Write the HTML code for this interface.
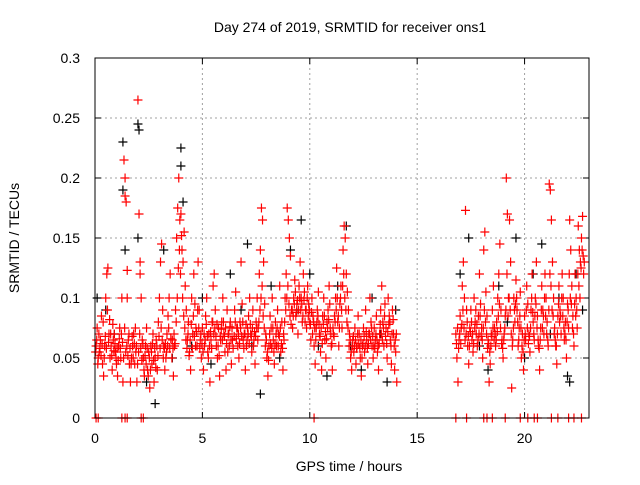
<!DOCTYPE html>
<html><head><meta charset="utf-8"><style>
body{margin:0;background:#fff;font-family:"Liberation Sans",sans-serif}
svg text{font-family:"Liberation Sans",sans-serif;font-size:14px;fill:#000}
</style></head><body>
<svg id="chart" width="640" height="480" viewBox="0 0 640 480">
<text x="350" y="32" text-anchor="middle">Day 274 of 2019, SRMTID for receiver ons1</text>
<text x="349" y="471" text-anchor="middle">GPS time / hours</text>
<text transform="translate(19,238) rotate(-90)" text-anchor="middle">SRMTID / TECUs</text>
<g id="grid"></g>
<g id="axes"></g>
<g id="black"></g>
<g id="red"></g>
<rect x="95" y="58" width="494" height="360" fill="none" stroke="#000" stroke-width="1"/>
</svg>
<script>
const xTicks=[0,5,10,15,20];
const yTicks=[0,0.05,0.1,0.15,0.2,0.25,0.3];
const yTickLabels=["0","0.05","0.1","0.15","0.2","0.25","0.3"];
const zeroTimes=[0.05,0.15,1.25,1.4,1.5,2.15,2.25,10.2,16.8,17.3,18.1,18.25,18.5,19.1,19.8,20.15,20.45,20.6,21.25,21.55,22.05,22.3,22.65];
const blackPoints=[[0.1,0.1],[0.5,0.09],[0.9,0.07],[1.3,0.23],[1.3,0.19],[1.4,0.14],[2.0,0.245],[2.05,0.24],[2.0,0.15],[2.4,0.03],[2.8,0.012],[3.2,0.14],[3.6,0.05],[4.0,0.225],[4.0,0.21],[4.1,0.18],[4.5,0.06],[5.0,0.1],[5.4,0.045],[6.3,0.12],[6.8,0.09],[7.1,0.145],[7.3,0.06],[7.7,0.02],[8.2,0.11],[8.6,0.05],[9.1,0.14],[9.4,0.09],[9.6,0.165],[10.0,0.12],[10.4,0.06],[10.8,0.035],[11.3,0.11],[11.7,0.16],[11.9,0.06],[12.4,0.04],[12.9,0.1],[13.3,0.07],[13.6,0.03],[14.0,0.09],[17.0,0.12],[17.4,0.15],[17.9,0.06],[18.3,0.04],[18.8,0.11],[19.2,0.08],[19.6,0.15],[20.0,0.05],[20.4,0.12],[20.8,0.145],[21.2,0.07],[21.6,0.1],[22.0,0.035],[22.1,0.03],[22.4,0.12],[22.7,0.09]];
const redPoints=[
[0.05,0.06],[0.1,0.075],[0.15,0.05],[0.2,0.055],[0.25,0.065],[0.3,0.085],[0.35,0.045],[0.4,0.035],[0.45,0.06],[0.5,0.1],[0.55,0.12],[0.6,0.125],[0.65,0.07],[0.7,0.05],[0.75,0.06],[0.8,0.04],[0.85,0.065],[0.9,0.07],[0.95,0.055],[1.0,0.045],[1.05,0.035],[1.1,0.06],[1.15,0.075],[1.2,0.05],[1.25,0.1],[1.3,0.03],[1.35,0.215],[1.4,0.2],[1.4,0.185],[1.45,0.18],[1.5,0.123],[1.5,0.1],[1.55,0.065],[1.6,0.045],[1.65,0.03],[1.7,0.05],[1.75,0.06],[1.8,0.07],[1.85,0.045],[1.9,0.055],[1.95,0.03],[2.0,0.265],[2.05,0.17],[2.1,0.13],[2.1,0.12],[2.15,0.1],[2.2,0.065],[2.25,0.05],[2.3,0.035],[2.35,0.06],[2.4,0.075],[2.45,0.04],[2.5,0.055],[2.55,0.025],[2.6,0.06],[2.65,0.045],[2.7,0.07],[2.75,0.03],[2.8,0.05],[2.85,0.065],[2.9,0.04],[2.95,0.08],[3.0,0.1],[3.05,0.13],[3.1,0.145],[3.15,0.09],[3.2,0.06],[3.25,0.04],[3.3,0.05],[3.35,0.07],[3.4,0.085],[3.45,0.1],[3.5,0.12],[3.6,0.065],[3.65,0.035],[3.7,0.06],[3.75,0.09],[3.8,0.15],[3.85,0.175],[3.9,0.2],[3.95,0.165],[4.0,0.17],[4.05,0.14],[4.1,0.13],[4.15,0.155],[4.2,0.11],[4.25,0.09],[4.3,0.065],[4.35,0.08],[4.4,0.055],[4.45,0.04],[4.5,0.1],[4.55,0.07],[4.6,0.12],[4.65,0.095],[4.7,0.075],[4.75,0.06],[4.8,0.13],[4.85,0.09],[4.9,0.065],[4.95,0.05],[5.0,0.075],[5.05,0.04],[5.1,0.06],[5.15,0.085],[5.2,0.1],[5.25,0.055],[5.3,0.07],[5.35,0.03],[5.4,0.065],[5.45,0.08],[5.5,0.11],[5.55,0.12],[5.6,0.09],[5.65,0.06],[5.7,0.05],[5.75,0.075],[5.8,0.035],[5.85,0.065],[5.9,0.08],[5.95,0.1],[6.0,0.07],[6.05,0.055],[6.1,0.04],[6.15,0.09],[6.2,0.07],[6.25,0.06],[6.3,0.08],[6.35,0.045],[6.4,0.065],[6.5,0.09],[6.55,0.105],[6.6,0.075],[6.65,0.06],[6.7,0.05],[6.75,0.08],[6.8,0.13],[6.85,0.095],[6.9,0.065],[6.95,0.07],[7.0,0.04],[7.05,0.06],[7.1,0.075],[7.15,0.085],[7.2,0.1],[7.25,0.07],[7.3,0.055],[7.35,0.09],[7.4,0.065],[7.45,0.045],[7.5,0.08],[7.55,0.1],[7.6,0.075],[7.65,0.12],[7.7,0.14],[7.75,0.175],[7.8,0.165],[7.85,0.13],[7.9,0.095],[7.95,0.07],[8.0,0.05],[8.05,0.035],[8.1,0.06],[8.15,0.085],[8.2,0.075],[8.25,0.1],[8.3,0.065],[8.35,0.045],[8.4,0.08],[8.45,0.06],[8.5,0.09],[8.55,0.07],[8.6,0.11],[8.65,0.055],[8.7,0.08],[8.75,0.04],[8.8,0.065],[8.85,0.1],[8.9,0.12],[8.95,0.175],[9.0,0.165],[9.05,0.15],[9.1,0.135],[9.15,0.09],[9.2,0.075],[9.25,0.1],[9.3,0.115],[9.35,0.085],[9.4,0.095],[9.45,0.07],[9.5,0.11],[9.55,0.13],[9.6,0.1],[9.65,0.08],[9.7,0.12],[9.75,0.105],[9.8,0.09],[9.85,0.075],[9.9,0.11],[9.95,0.095],[10.0,0.08],[10.05,0.065],[10.1,0.1],[10.15,0.085],[10.2,0.06],[10.25,0.045],[10.3,0.075],[10.35,0.09],[10.4,0.105],[10.45,0.07],[10.5,0.055],[10.55,0.04],[10.6,0.085],[10.65,0.1],[10.7,0.065],[10.75,0.05],[10.8,0.08],[10.85,0.09],[10.9,0.11],[10.95,0.075],[11.0,0.06],[11.05,0.04],[11.1,0.07],[11.15,0.085],[11.2,0.1],[11.25,0.125],[11.3,0.08],[11.35,0.06],[11.4,0.095],[11.45,0.11],[11.5,0.075],[11.55,0.14],[11.6,0.16],[11.65,0.15],[11.7,0.12],[11.75,0.105],[11.8,0.09],[11.85,0.07],[11.9,0.05],[11.95,0.04],[12.0,0.065],[12.05,0.055],[12.1,0.075],[12.15,0.045],[12.2,0.06],[12.25,0.085],[12.3,0.07],[12.35,0.05],[12.4,0.035],[12.45,0.06],[12.5,0.075],[12.55,0.055],[12.6,0.09],[12.65,0.065],[12.7,0.045],[12.75,0.07],[12.8,0.1],[12.85,0.08],[12.9,0.06],[12.95,0.05],[13.0,0.075],[13.05,0.065],[13.1,0.085],[13.15,0.055],[13.2,0.04],[13.25,0.07],[13.3,0.09],[13.35,0.11],[13.4,0.08],[13.45,0.06],[13.5,0.095],[13.55,0.075],[13.6,0.05],[13.65,0.1],[13.7,0.085],[13.75,0.065],[13.8,0.045],[13.85,0.09],[13.9,0.07],[13.95,0.04],[14.0,0.055],[14.05,0.03],
[16.8,0.07],[16.85,0.05],[16.9,0.03],[16.95,0.065],[17.0,0.085],[17.05,0.075],[17.1,0.11],[17.15,0.13],[17.2,0.1],[17.25,0.173],[17.3,0.09],[17.35,0.06],[17.4,0.045],[17.45,0.075],[17.5,0.09],[17.55,0.065],[17.6,0.055],[17.65,0.1],[17.7,0.08],[17.75,0.07],[17.8,0.06],[17.85,0.085],[17.9,0.12],[17.95,0.095],[18.0,0.075],[18.05,0.05],[18.1,0.14],[18.15,0.155],[18.2,0.105],[18.25,0.085],[18.3,0.065],[18.35,0.03],[18.4,0.045],[18.45,0.07],[18.5,0.09],[18.55,0.11],[18.6,0.075],[18.65,0.06],[18.7,0.08],[18.75,0.1],[18.8,0.12],[18.85,0.145],[18.9,0.09],[18.95,0.065],[19.0,0.05],[19.05,0.07],[19.1,0.085],[19.15,0.2],[19.2,0.17],[19.25,0.1],[19.3,0.165],[19.35,0.13],[19.4,0.025],[19.45,0.065],[19.5,0.1],[19.55,0.08],[19.6,0.115],[19.65,0.09],[19.7,0.06],[19.75,0.075],[19.8,0.105],[19.85,0.05],[19.9,0.07],[19.95,0.04],[20.0,0.085],[20.05,0.065],[20.1,0.11],[20.15,0.095],[20.2,0.07],[20.25,0.055],[20.3,0.09],[20.35,0.12],[20.4,0.08],[20.45,0.065],[20.5,0.1],[20.55,0.13],[20.6,0.085],[20.65,0.06],[20.7,0.04],[20.75,0.075],[20.8,0.11],[20.85,0.09],[20.9,0.07],[20.95,0.12],[21.0,0.1],[21.05,0.08],[21.1,0.06],[21.15,0.195],[21.2,0.19],[21.25,0.165],[21.3,0.13],[21.35,0.1],[21.4,0.075],[21.45,0.06],[21.5,0.045],[21.55,0.085],[21.6,0.11],[21.65,0.09],[21.7,0.07],[21.75,0.12],[21.8,0.1],[21.85,0.065],[21.9,0.08],[21.95,0.05],[22.0,0.095],[22.05,0.075],[22.1,0.165],[22.15,0.14],[22.2,0.11],[22.25,0.085],[22.3,0.06],[22.35,0.12],[22.4,0.1],[22.45,0.075],[22.5,0.16],[22.55,0.14],[22.6,0.13],[22.65,0.15],[22.7,0.168],[22.75,0.12]
];
const redPoints2=[
[0.03,0.055],[0.08,0.065],[0.13,0.045],[0.18,0.07],[0.23,0.058],[0.28,0.052],[0.33,0.062],[0.38,0.08],[0.43,0.05],[0.48,0.068],[0.53,0.058],[0.58,0.09],[0.63,0.063],[0.68,0.082],[0.73,0.07],[0.78,0.052],[0.83,0.078],[0.88,0.056],[0.93,0.062],[0.98,0.05],[1.03,0.058],[1.08,0.048],[1.13,0.066],[1.18,0.058],[1.23,0.07],[1.28,0.063],[1.33,0.05],[1.38,0.075],[1.43,0.055],[1.48,0.06],[1.53,0.052],[1.58,0.07],[1.63,0.058],[1.68,0.045],[1.73,0.068],[1.78,0.05],[1.83,0.062],[1.88,0.075],[1.93,0.06],[1.98,0.045],[2.03,0.055],[2.08,0.07],[2.13,0.058],[2.18,0.048],[2.23,0.062],[2.28,0.04],[2.33,0.052],[2.38,0.045],[2.43,0.058],[2.48,0.035],[2.53,0.05],[2.58,0.04],[2.63,0.055],[2.68,0.062],[2.73,0.048],[2.78,0.058],[2.83,0.042],[2.88,0.06],[2.93,0.052],[2.98,0.068],[3.03,0.058],[3.08,0.075],[3.13,0.065],[3.18,0.05],[3.23,0.058],[3.28,0.062],[3.33,0.055],[3.38,0.06],[3.43,0.075],[3.48,0.058],[3.53,0.066],[3.58,0.05],[3.63,0.058],[3.68,0.07],[3.73,0.062],[3.78,0.08],[3.83,0.1],[3.88,0.125],[3.93,0.14],[3.98,0.12],[4.03,0.152],[4.08,0.1],[4.13,0.085],[4.18,0.075],[4.23,0.065],[4.28,0.058],[4.33,0.07],[4.38,0.052],[4.43,0.065],[4.48,0.078],[4.53,0.058],[4.58,0.085],[4.63,0.068],[4.68,0.06],[4.73,0.072],[4.78,0.09],[4.83,0.075],[4.88,0.058],[4.93,0.07],[4.98,0.062],[5.03,0.055],[5.08,0.07],[5.13,0.065],[5.18,0.078],[5.23,0.068],[5.28,0.05],[5.33,0.06],[5.38,0.072],[5.43,0.058],[5.48,0.08],[5.53,0.07],[5.58,0.075],[5.63,0.068],[5.68,0.078],[5.73,0.06],[5.78,0.052],[5.83,0.068],[5.88,0.074],[5.93,0.065],[5.98,0.08],[6.03,0.068],[6.08,0.075],[6.13,0.062],[6.18,0.055],[6.23,0.07],[6.28,0.076],[6.33,0.065],[6.38,0.075],[6.43,0.058],[6.48,0.068],[6.53,0.08],[6.58,0.066],[6.63,0.075],[6.68,0.07],[6.73,0.062],[6.78,0.075],[6.83,0.068],[6.88,0.08],[6.93,0.058],[6.98,0.07],[7.03,0.078],[7.08,0.065],[7.13,0.07],[7.18,0.062],[7.23,0.078],[7.28,0.068],[7.33,0.075],[7.38,0.06],[7.43,0.072],[7.48,0.068],[7.53,0.075],[7.58,0.065],[7.63,0.08],[7.68,0.09],[7.73,0.1],[7.78,0.11],[7.83,0.085],[7.88,0.075],[7.93,0.06],[7.98,0.065],[8.03,0.055],[8.08,0.048],[8.13,0.07],[8.18,0.062],[8.23,0.058],[8.28,0.075],[8.33,0.055],[8.38,0.062],[8.43,0.07],[8.48,0.075],[8.53,0.06],[8.58,0.068],[8.63,0.075],[8.68,0.062],[8.73,0.058],[8.78,0.07],[8.83,0.08],[8.88,0.09],[8.93,0.1],[8.98,0.11],[9.03,0.095],[9.08,0.085],[9.13,0.078],[9.18,0.09],[9.23,0.085],[9.28,0.095],[9.33,0.105],[9.38,0.088],[9.43,0.098],[9.48,0.09],[9.53,0.1],[9.58,0.09],[9.63,0.095],[9.68,0.085],[9.73,0.098],[9.78,0.08],[9.83,0.09],[9.88,0.1],[9.93,0.085],[9.98,0.09],[10.03,0.078],[10.08,0.088],[10.13,0.07],[10.18,0.08],[10.23,0.075],[10.28,0.065],[10.33,0.08],[10.38,0.085],[10.43,0.078],[10.48,0.068],[10.53,0.075],[10.58,0.062],[10.63,0.078],[10.68,0.085],[10.73,0.072],[10.78,0.066],[10.83,0.075],[10.88,0.082],[10.93,0.095],[10.98,0.07],[11.03,0.062],[11.08,0.075],[11.13,0.068],[11.18,0.08],[11.23,0.09],[11.28,0.1],[11.33,0.085],[11.38,0.075],[11.43,0.1],[11.48,0.09],[11.53,0.11],[11.58,0.12],[11.63,0.1],[11.68,0.09],[11.73,0.08],[11.78,0.075],[11.83,0.06],[11.88,0.065],[11.93,0.055],[11.98,0.06],[12.03,0.068],[12.08,0.06],[12.13,0.065],[12.18,0.058],[12.23,0.07],[12.28,0.062],[12.33,0.058],[12.38,0.065],[12.43,0.05],[12.48,0.062],[12.53,0.068],[12.58,0.06],[12.63,0.072],[12.68,0.058],[12.73,0.062],[12.78,0.07],[12.83,0.065],[12.88,0.075],[12.93,0.068],[12.98,0.06],[13.03,0.058],[13.08,0.07],[13.13,0.065],[13.18,0.06],[13.23,0.062],[13.28,0.078],[13.33,0.07],[13.38,0.065],[13.43,0.075],[13.48,0.085],[13.53,0.068],[13.58,0.062],[13.63,0.072],[13.68,0.078],[13.73,0.08],[13.78,0.06],[13.83,0.07],[13.88,0.082],[13.93,0.06],[13.98,0.065],[14.03,0.07],
[16.83,0.062],[16.88,0.075],[16.93,0.058],[16.98,0.07],[17.03,0.062],[17.08,0.078],[17.13,0.09],[17.18,0.075],[17.23,0.065],[17.28,0.07],[17.33,0.08],[17.38,0.068],[17.43,0.06],[17.48,0.072],[17.53,0.08],[17.58,0.07],[17.63,0.062],[17.68,0.075],[17.73,0.09],[17.78,0.078],[17.83,0.065],[17.88,0.07],[17.93,0.085],[17.98,0.068],[18.03,0.065],[18.08,0.075],[18.13,0.09],[18.18,0.08],[18.23,0.07],[18.28,0.058],[18.33,0.062],[18.38,0.055],[18.43,0.06],[18.48,0.068],[18.53,0.075],[18.58,0.065],[18.63,0.07],[18.68,0.065],[18.73,0.072],[18.78,0.085],[18.83,0.095],[18.88,0.075],[18.93,0.062],[18.98,0.058],[19.03,0.065],[19.08,0.075],[19.13,0.09],[19.18,0.12],[19.23,0.085],[19.28,0.1],[19.33,0.09],[19.38,0.07],[19.43,0.06],[19.48,0.075],[19.53,0.09],[19.58,0.095],[19.63,0.1],[19.68,0.08],[19.73,0.065],[19.78,0.085],[19.83,0.075],[19.88,0.06],[19.93,0.055],[19.98,0.065],[20.03,0.07],[20.08,0.09],[20.13,0.075],[20.18,0.062],[20.23,0.068],[20.28,0.075],[20.33,0.1],[20.38,0.088],[20.43,0.07],[20.48,0.085],[20.53,0.095],[20.58,0.075],[20.63,0.065],[20.68,0.058],[20.73,0.065],[20.78,0.09],[20.83,0.075],[20.88,0.085],[20.93,0.1],[20.98,0.085],[21.03,0.07],[21.08,0.065],[21.13,0.09],[21.18,0.12],[21.23,0.11],[21.28,0.09],[21.33,0.085],[21.38,0.07],[21.43,0.065],[21.48,0.06],[21.53,0.07],[21.58,0.095],[21.63,0.08],[21.68,0.085],[21.73,0.1],[21.78,0.085],[21.83,0.075],[21.88,0.07],[21.93,0.065],[21.98,0.08],[22.03,0.09],[22.08,0.12],[22.13,0.1],[22.18,0.095],[22.23,0.075],[22.28,0.07],[22.33,0.095],[22.38,0.085],[22.43,0.09],[22.48,0.12],[22.53,0.11],[22.58,0.1],[22.63,0.125],[22.68,0.14],[22.73,0.135],[22.78,0.13]
];
const X0=95,X1=589,Y0=418,Y1=58,XMAX=23,YMAX=0.3;
const xs=t=>X0+(X1-X0)*t/XMAX;
const ys=v=>Y0-(Y0-Y1)*v/YMAX;
const NS="http://www.w3.org/2000/svg";
function mk(tag,attrs,parent){const e=document.createElementNS(NS,tag);for(const k in attrs)e.setAttribute(k,attrs[k]);parent.appendChild(e);return e;}
const grid=document.getElementById('grid'),axes=document.getElementById('axes');
xTicks.forEach(t=>{
 const x=xs(t);
 if(t>0){const g=mk('line',{x1:x,x2:x,y1:Y1,y2:Y0,stroke:'#a0a0a0','stroke-dasharray':'2,3'},grid);
 
 }
 const tk=mk('path',{d:`M${x} ${Y0}v-6M${x} ${Y1}v6`,stroke:'#000'},axes);
 
 
 const l=mk('text',{x:x,y:443,'text-anchor':'middle'},axes);l.textContent=t;
 
 
});
yTicks.forEach((v,i)=>{
 const y=ys(v);
 if(v>0&&v<YMAX){const g=mk('line',{x1:X0,x2:X1,y1:y,y2:y,stroke:'#a0a0a0','stroke-dasharray':'2,3'},grid);
 
 }
 const tk=mk('path',{d:`M${X0} ${y}h6M${X1} ${y}h-6`,stroke:'#000'},axes);
 
 
 const l=mk('text',{x:80,y:y+5,'text-anchor':'end'},axes);l.textContent=yTickLabels[i];
 
 
});
function plus(g,t,v,c){
 const x=xs(t),y=ys(v);
 const p=mk('path',{d:`M${x-4.5} ${y}h9M${x} ${y-4.5}v9`,stroke:c,'stroke-width':1.2},g);
 
 
}
const bg=document.getElementById('black'),rg=document.getElementById('red');
blackPoints.forEach(p=>plus(bg,p[0],p[1],'#000'));
redPoints.forEach(p=>plus(rg,p[0],p[1],'#f00'));
redPoints2.forEach(p=>plus(rg,p[0],p[1],'#f00'));
zeroTimes.forEach(t=>plus(rg,t,0,'#f00'));
</script>
</body></html>
